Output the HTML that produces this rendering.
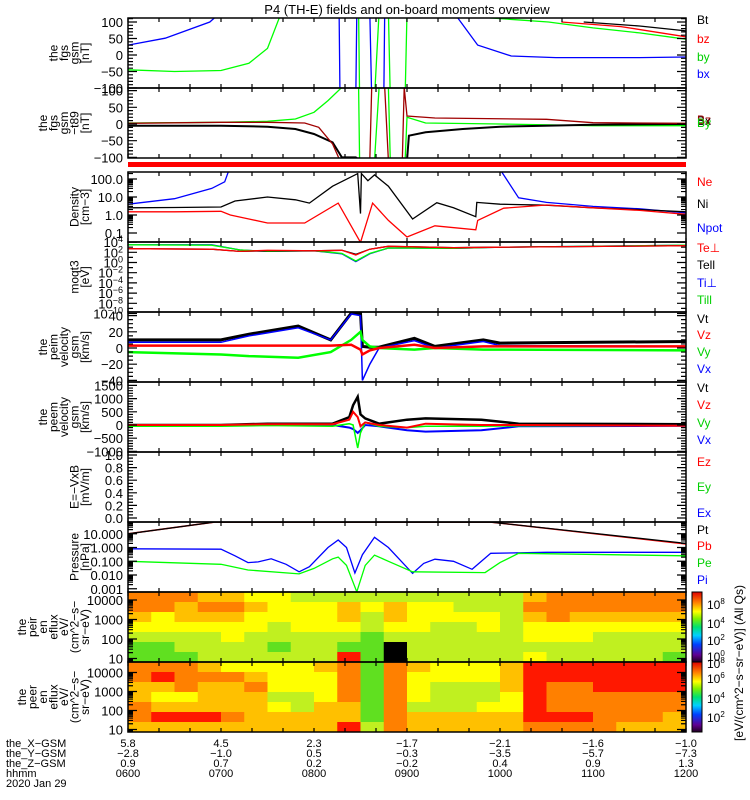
<!DOCTYPE html>
<html><head><meta charset="utf-8"><style>
body{margin:0;background:#fff}
svg{display:block;font-family:"Liberation Sans",sans-serif}
</style></head><body>
<svg id="chart" width="750" height="800" viewBox="0 0 750 800" xmlns="http://www.w3.org/2000/svg">
<rect width="750" height="800" fill="#fff"/>
<text x="407" y="14" font-size="13" text-anchor="middle">P4 (TH-E) fields and on-board moments overview</text>
</svg>
<script>
// ---------- data ----------
const hourLabels=["0600","0700","0800","0900","1000","1100","1200"];
const xGsm=["5.8","4.5","2.3","-1.7","-2.1","-1.6","-1.0"];
const yGsm=["-2.8","-1.0","0.5","-0.3","-3.5","-5.7","-7.3"];
const zGsm=["0.9","0.7","0.2","-0.2","0.4","0.9","1.3"];
// panel 1 fgs
const p1TimeBx=[6,6.4,6.88,7.0,8.27,8.28,8.45,8.46,8.6,8.62,8.75,8.76,9.5,9.76,10.12,10.6,11.5,12];
const p1Bx=[30,51,100,130,130,-130,-130,130,130,-130,-130,130,130,30,-3,-8,-8,-6];
const p1TimeBy=[6,6.5,7.0,7.3,7.5,7.65,8.48,8.49,8.65,8.7,8.8,8.82,8.98,9.0,10.52,11,11.5,12];
const p1By=[-45,-50,-47,-25,20,130,130,-130,-130,130,130,-130,-130,130,100,82,67,48];
const p1TimeBz=[10.66,11.3,12];const p1Bz=[100,86,55];
const p1TimeBt=[10.9,11.5,12];const p1Bt=[100,88,73];
// panel 2 fgs-t89
const p2TimeBy=[6,7,7.5,7.8,8.0,8.15,8.3,8.48,8.49,8.65,8.7,8.8,8.82,8.98,9.0,9.2,10,11,12];
const p2By=[3,5,8,15,35,70,110,110,-110,-110,110,110,-110,-110,20,3,0,-5,-5];
const p2TimeBz=[6,7,7.5,7.9,8.05,8.2,8.28,8.6,8.62,8.76,8.8,8.95,8.97,9.0,9.3,10.5,11,12];
const p2Bz=[2,5,5,3,-10,-60,-110,-110,110,110,-110,-110,110,24,18,14,4,2];
const p2TimeBx=[6,7,7.5,7.8,8.0,8.2,8.3,8.45,8.5,9.0,9.02,9.2,9.6,10,11,12];
const p2Bx=[-5,-5,-8,-15,-30,-55,-100,-100,-110,-110,-35,-25,-15,-8,-2,0];
// panel 3 density
const p3TimeNi=[6,6.5,7.0,7.15,7.5,7.8,7.95,8.2,8.47,8.5,8.51,8.58,8.65,8.8,9.06,9.32,9.5,9.74,9.75,10,10.5,11,11.5,12];
const p3Ni=[2.5,2.6,2.8,6,10,7,4.6,40,200,1.2,200,80,170,40,0.6,4.8,2.5,0.8,5,4,3.5,2.5,2,1.5];
const p3TimeNe=[6,6.5,7.0,7.1,7.3,7.5,7.9,8.26,8.5,8.63,8.8,9.0,9.3,9.74,9.76,10.04,10.5,11,11.5,12];
const p3Ne=[1.5,1.5,1.6,1.0,0.6,0.36,0.36,4.6,0.03,4.6,0.5,0.06,0.25,0.15,0.5,2.4,3.6,2.5,1.8,1.1];
const p3TimeNpot=[6,6.5,6.9,7.04,7.1,9.98,10.2,10.5,11,11.5,12];
const p3Npot=[4,8,30,70,500,500,9,5,3,2.2,1.3];
// panel 4 temperatures
const p4Time=[6,6.9,7.2,7.5,8.0,8.3,8.45,8.6,8.8,9.5,10,12];
const p4TiPerp=[3000,3000,300,150,200,50,1.5,50,700,600,1000,2500];
const p4TiPar=[3000,2500,300,150,200,60,2,60,700,600,1000,2500];
const p4TePerp=[500,400,150,250,200,250,30,400,1500,800,1000,2000];
const p4TePar=[500,400,150,200,200,250,40,400,1500,800,1000,2000];
// panel 5 ion velocity
const p5Time=[6,7,7.3,7.83,8.18,8.4,8.5,8.52,8.6,8.7,9.08,9.3,9.82,10,12];
const p5Vt=[10,10,17,27,10,43,43,2,1,1,12,2,10,6,8];
const p5Vx=[7,7,15,25,10,42,40,-40,-20,0,9,0,8,3,2];
const p5Vz=[3,3,3,3,3,4,-2,-8,-3,0,4,0,2,2,2];
const p5Vy=[-5,-8,-10,-12,-5,10,20,10,2,0,-2,0,-2,-2,-3];
// panel 6 electron velocity
const p6Time=[6,7,7.5,8.2,8.38,8.42,8.47,8.5,8.55,8.7,9.0,9.2,9.8,10.2,12];
const p6Vt=[0,0,50,50,300,750,1070,400,250,50,200,250,200,50,30];
const p6Vz=[0,0,30,30,200,500,300,-50,100,0,-100,50,0,0,-30];
const p6Vy=[-50,-50,-20,-50,50,0,-870,-300,100,-50,-100,-50,-50,-30,-30];
const p6Vx=[0,0,0,0,-100,-150,-300,-200,0,-50,-200,-250,-200,-50,-30];
// panel 8 pressure
const p8TimePt=[6,6.93,9.9,12];const p8Pt=[10,70,70,2];const p8Pb=[10,70,70,1.8];
const p8TimePi=[6,7.0,7.15,7.29,7.4,7.54,7.7,7.84,7.95,8.15,8.26,8.35,8.44,8.52,8.65,8.8,9.06,9.18,9.3,9.5,9.7,9.8,9.9,10.5,12];
const p8Pi=[0.8,0.75,0.25,0.08,0.09,0.15,0.06,0.017,0.04,1.0,3.5,1.0,0.014,0.3,5.5,1.0,0.013,0.07,0.14,0.1,0.026,0.1,0.38,0.45,0.45];
const p8TimePe=[6,7.0,7.29,7.84,8.0,8.2,8.26,8.35,8.46,8.55,8.65,8.8,9.06,9.84,10.0,10.2,12];
const p8Pe=[0.1,0.06,0.023,0.012,0.03,0.15,0.2,0.05,0.0006,0.05,0.28,0.1,0.017,0.015,0.08,0.38,0.25];
// spectrograms: level index per 15-min column, rows high->low energy
const ionSpec=[
[6,6,6,5,5,4,4,3,3,3,3,3,3,3,3,3,3,5,6,6,6,6,6,6],
[6,6,5,6,6,5,4,4,4,5,4,5,4,4,3,3,3,6,6,6,6,6,6,6],
[5,4,5,5,5,4,4,4,4,5,3,5,4,4,4,4,3,5,6,5,5,5,5,5],
[4,4,4,4,4,4,3,4,4,4,3,4,4,3,3,4,3,4,4,4,4,4,4,4],
[3,3,3,3,4,3,3,3,3,3,2,3,3,3,3,3,3,4,4,4,3,3,3,3],
[2,2,3,3,3,3,2,3,3,2,2,0,3,3,3,3,3,3,3,3,3,3,3,3],
[2,2,2,3,3,3,3,3,3,7,2,0,3,3,3,3,3,4,3,3,3,3,3,2]];
const eleSpec=[
[6,6,6,5,4,4,4,4,5,6,2,6,5,4,4,4,5,7,7,7,7,7,7,7],
[6,7,6,6,6,5,4,4,4,6,2,6,4,4,4,4,5,7,7,7,7,7,7,7],
[5,5,6,5,5,6,4,4,4,6,2,6,4,3,3,3,5,7,6,6,7,7,7,7],
[5,4,4,5,5,5,3,3,4,6,2,6,4,3,3,3,4,7,6,6,6,6,6,6],
[6,5,5,5,5,5,4,3,5,5,2,6,3,3,3,4,4,7,6,6,6,6,6,6],
[6,7,7,7,6,5,5,5,5,5,2,6,5,5,5,5,5,7,7,7,6,6,6,5],
[5,5,5,5,5,5,5,5,5,7,3,6,5,5,5,5,5,6,6,6,6,5,5,5]];
const levelColors=["#000000","#00d8e0","#60e020","#c0f020","#ffff00","#ffc000","#ff8000","#ff1800"];

// ---------- helpers ----------
const NS="http://www.w3.org/2000/svg";
const svg=document.getElementById('chart');
const X0=128,X1=686;
function xs(t){return X0+(t-6)/6*(X1-X0);}
function mk(tag,attrs,parent){const e=document.createElementNS(NS,tag);for(const k in attrs)e.setAttribute(k,attrs[k]);(parent||svg).appendChild(e);return e;}
const panels=[
 {top:18,bot:88,y:v=>55-v*0.33},
 {top:88,bot:158,y:v=>124-0.334*v},
 {top:172,bot:242,y:v=>215-18*Math.log10(v)},
 {top:242,bot:312,y:v=>262.5-5.1*Math.log10(v)},
 {top:312,bot:382,y:v=>348-0.81*v},
 {top:382,bot:452,y:v=>425-0.0264*v},
 {top:452,bot:522,y:v=>518-63*v},
 {top:522,bot:592,y:v=>547.5-13.75*Math.log10(v)},
 {top:592,bot:662,y:v=>678-19.5*Math.log10(v)},
 {top:662,bot:732,y:v=>748.5-19*Math.log10(v)}];
const defs=mk('defs',{});
panels.forEach((p,i)=>{const c=mk('clipPath',{id:'clip'+i},defs);mk('rect',{x:X0,y:p.top,width:X1-X0,height:p.bot-p.top},c);});

function series(pi,ts,vs,color,name,w){
 const p=panels[pi];
 const d=ts.map((t,i)=>(i?'L':'M')+xs(t).toFixed(1)+' '+p.y(vs[i]).toFixed(1)).join(' ');
 const e=mk('path',{d:d,fill:'none',stroke:color,'stroke-width':w||1.3,'clip-path':'url(#clip'+pi+')'});
 
 
}

// spectrograms
function spec(pi,grid,name){
 const p=panels[pi];const g=mk('g',{'clip-path':'url(#clip'+pi+')'});
 
 
 const rows=grid.length,cols=grid[0].length;const cw=(X1-X0)/cols,rh=(p.bot-p.top)/rows;
 grid.forEach((row,r)=>row.forEach((lv,c)=>{
  const e=mk('rect',{x:(X0+c*cw).toFixed(2),y:(p.top+r*rh).toFixed(2),width:(cw+0.6).toFixed(2),height:(rh+0.6).toFixed(2),fill:levelColors[lv]},g);
  
  
 }));
}
spec(8,ionSpec,'ion-energy-spectrogram');
spec(9,eleSpec,'electron-energy-spectrogram');

// red bar
const rb=mk('rect',{x:X0,y:162,width:X1-X0,height:5,fill:'#ff0000'});



// series
series(0,p1TimeBx,p1Bx,'#0000ff','bx-line');
series(0,p1TimeBy,p1By,'#00ff00','by-line');
series(0,p1TimeBz,p1Bz,'#ff0000','bz-line');
series(0,p1TimeBt,p1Bt,'#000000','bt-line');
series(1,p2TimeBy,p2By,'#00ff00','t89-by-line');
series(1,p2TimeBx,p2Bx,'#000000','t89-bx-line',2);
series(1,p2TimeBz,p2Bz,'#a00000','t89-bz-line');
series(2,p3TimeNpot,p3Npot,'#0000ff','npot-line');
series(2,p3TimeNi,p3Ni,'#000000','ni-line');
series(2,p3TimeNe,p3Ne,'#ff0000','ne-line');
series(3,p4Time,p4TiPerp,'#0000ff','ti-perp-line');
series(3,p4Time,p4TiPar,'#00ff00','ti-par-line');
series(3,p4Time,p4TePar,'#000000','te-par-line');
series(3,p4Time,p4TePerp,'#ff0000','te-perp-line');
series(4,p5Time,p5Vt,'#000000','ion-vt-line',3);
series(4,p5Time,p5Vx,'#0000ff','ion-vx-line',1.5);
series(4,p5Time,p5Vy,'#00ff00','ion-vy-line',2.5);
series(4,p5Time,p5Vz,'#ff0000','ion-vz-line',2.5);
series(5,p6Time,p6Vt,'#000000','ele-vt-line',2.5);
series(5,p6Time,p6Vx,'#0000ff','ele-vx-line',2);
series(5,p6Time,p6Vy,'#00ff00','ele-vy-line',1.5);
series(5,p6Time,p6Vz,'#ff0000','ele-vz-line',2);
series(7,p8TimePt,p8Pb,'#ff0000','pb-line',1.5);
series(7,p8TimePt,p8Pt,'#000000','pt-line');
series(7,p8TimePi,p8Pi,'#0000ff','pi-line');
series(7,p8TimePe,p8Pe,'#00ff00','pe-line');

// axes boxes and ticks
panels.forEach((p,i)=>{
 const b=mk('rect',{x:X0,y:p.top,width:X1-X0,height:p.bot-p.top,fill:'none',stroke:'#000','stroke-width':1.5});
 
 
 let d='';
 for(let k=0;k<=18;k++){const x=X0+k*(X1-X0)/18;d+=`M${x} ${p.top}v4M${x} ${p.bot}v-4`;}
 const tk=mk('path',{d:d,stroke:'#000','stroke-width':1.2,fill:'none'});
 
 
});
function yTicks(pi,vals,labels,minor,log){
 const p=panels[pi];let d='';
 vals.forEach(v=>{const y=p.y(v);d+=`M${X0} ${y}h9M${X1} ${y}h-9`;});
 minor.forEach(v=>{const y=p.y(v);if(y>=p.top&&y<=p.bot)d+=`M${X0} ${y}h5M${X1} ${y}h-5`;});
 const e=mk('path',{d:d,stroke:'#000','stroke-width':1.2,fill:'none'});
 
 
 vals.forEach((v,i)=>{
  const t=mk('text',{x:123,y:(p.y(v)+5).toFixed(1),'font-size':13,'text-anchor':'end'});
  
  
  const L=labels[i];
  if(Array.isArray(L)){t.textContent=L[0];const s=mk('tspan',{'font-size':9,dy:-5},t);s.textContent=L[1];}
  else t.textContent=L;
 });
}
function lin(a,b,s){const r=[];for(let v=a;v<=b+1e-9;v+=s)r.push(v);return r;}
function logMinor(a,b){const r=[];for(let e=a;e<b;e++)for(let m=2;m<10;m++)r.push(m*Math.pow(10,e));return r;}
const linTicks=[100,50,0,-50,-100];
yTicks(0,linTicks,["100","50","0","\u221250","\u2212100"],lin(-100,110,10));
yTicks(1,linTicks,["100","50","0","\u221250","\u2212100"],lin(-100,110,10));
yTicks(2,[100,10,1,0.1],["100.0","10.0","1.0","0.1"],logMinor(-1,3));
yTicks(3,[1e4,1e2,1,1e-2,1e-4,1e-6,1e-8,1e-10],[["10","4"],["10","2"],["10","0"],["10","\u22122"],["10","\u22124"],["10","\u22126"],["10","\u22128"],["10","\u221210"]],[1e3,10,0.1,1e-3,1e-5,1e-7,1e-9]);
yTicks(4,[40,20,0,-20,-40],["40","20","0","\u221220","\u221240"],lin(-40,40,5));
yTicks(5,[1500,1000,500,0,-500,-1000],["1500","1000","500","0","\u2212500","\u22121000"],lin(-1000,1500,100));
yTicks(6,[1,0.8,0.6,0.4,0.2,0],["1.0","0.8","0.6","0.4","0.2","0.0"],lin(0,1,0.05));
yTicks(7,[10,1,0.1,0.01,0.001],["10.000","1.000","0.100","0.010","0.001"],logMinor(-3,2));
yTicks(8,[1e4,1e3,100,10],["10000","1000","100","10"],logMinor(0,4));
yTicks(9,[1e4,1e3,100,10],["10000","1000","100","10"],logMinor(0,4));

// panel y titles (rotated, multi-line)
const titles=[
 [53,["the","fgs","gsm","[nT]"]],
 [123,["the","fgs","gsm","\u2212t89","[nT]"]],
 [207,["Density","[cm\u22123]"]],
 [277,["moqt3","[eV]"]],
 [347,["the","peim","velocity","gsm","[km/s]"]],
 [417,["the","peem","velocity","gsm","[km/s]"]],
 [487,["E=\u2212VxB","[mV/m]"]],
 [557,["Pressure","[nPa]"]],
 [627,["the","peir","en","eflux","eV/","(cm^2\u2212s\u2212","sr\u2212eV)"]],
 [697,["the","peer","en","eflux","eV/","(cm^2\u2212s\u2212","sr\u2212eV)"]]];
titles.forEach(([cy,lines],i)=>{
 const n=lines.length;
 lines.forEach((s,j)=>{
  const x=89-(n-1-j)*10.5;
  const t=mk('text',{x:0,y:0,'font-size':12,'text-anchor':'middle',transform:`translate(${x},${cy}) rotate(-90)`});
  
  
  t.textContent=s;
 });
});

// right legends
const legends=[
 ["Bt","#000",24],["bz","#ff0000",43],["by","#00d000",61],["bx","#0000ff",78],
 ["Bx","#000",125],["Bz","#a00000",124],["By","#00d000",127],
 ["Ne","#ff0000",186],["Ni","#000",208],["Npot","#0000ff",232],
 ["Te\u22a5","#ff0000",252],["Tell","#000",269],["Ti\u22a5","#0000ff",287],["Till","#00d000",304],
 ["Vt","#000",323],["Vz","#ff0000",339],["Vy","#00d000",356],["Vx","#0000ff",373],
 ["Vt","#000",392],["Vz","#ff0000",409],["Vy","#00d000",427],["Vx","#0000ff",444],
 ["Ez","#ff0000",466],["Ey","#00d000",491],["Ex","#0000ff",517],
 ["Pt","#000",534],["Pb","#ff0000",550],["Pe","#00d000",567],["Pi","#0000ff",584]];
legends.forEach(([s,c,y])=>{
 const t=mk('text',{x:697,y:y,'font-size':12,fill:c});
 
 
 t.textContent=s;
});

// colorbars
const gr=mk('linearGradient',{id:'cbar',x1:0,y1:1,x2:0,y2:0},defs);
[["0","#200020"],["0.1","#600090"],["0.25","#0040ff"],["0.38","#00d0ff"],["0.5","#00e070"],["0.62","#80f000"],["0.72","#ffff00"],["0.85","#ff8000"],["1","#e00000"]].forEach(([o,c])=>mk('stop',{offset:o,'stop-color':c},gr));
[[592,662,'ion-colorbar'],[662,732,'electron-colorbar']].forEach(([a,b,n])=>{
 const r=mk('rect',{x:692,y:a,width:10,height:b-a,fill:'url(#cbar)',stroke:'#000','stroke-width':1});
 
 
});
[["8",609],["4",628],["2",645],["0",661],["8",668],["6",683],["4",703],["2",722]].forEach(([e,y])=>{
 const t=mk('text',{x:707,y:y,'font-size':12});
 
 
 t.textContent='10';const s=mk('tspan',{'font-size':8,dy:-5},t);s.textContent=e;
});
const ct=mk('text',{x:0,y:0,'font-size':12,'text-anchor':'middle',transform:'translate(743,663) rotate(-90)'});


ct.textContent='[eV/(cm^2\u2212s\u2212sr\u2212eV)] (All Qs)';

// bottom labels
const rowsY=[747,757,767,777];
const rowNames=["the_X\u2212GSM","the_Y\u2212GSM","the_Z\u2212GSM","hhmm"];
const rowData=[xGsm,yGsm,zGsm,hourLabels];
rowNames.forEach((n,i)=>{
 const t=mk('text',{x:6,y:rowsY[i],'font-size':11});
 
 
 t.textContent=n;
 rowData[i].forEach((s,k)=>{
  const u=mk('text',{x:xs(6+k),y:rowsY[i],'font-size':11,'text-anchor':'middle'});
  
  
  u.textContent=s.replace('-','\u2212');
 });
});
const dt=mk('text',{x:6,y:787,'font-size':11});


dt.textContent='2020 Jan 29';
</script>
</body></html>
